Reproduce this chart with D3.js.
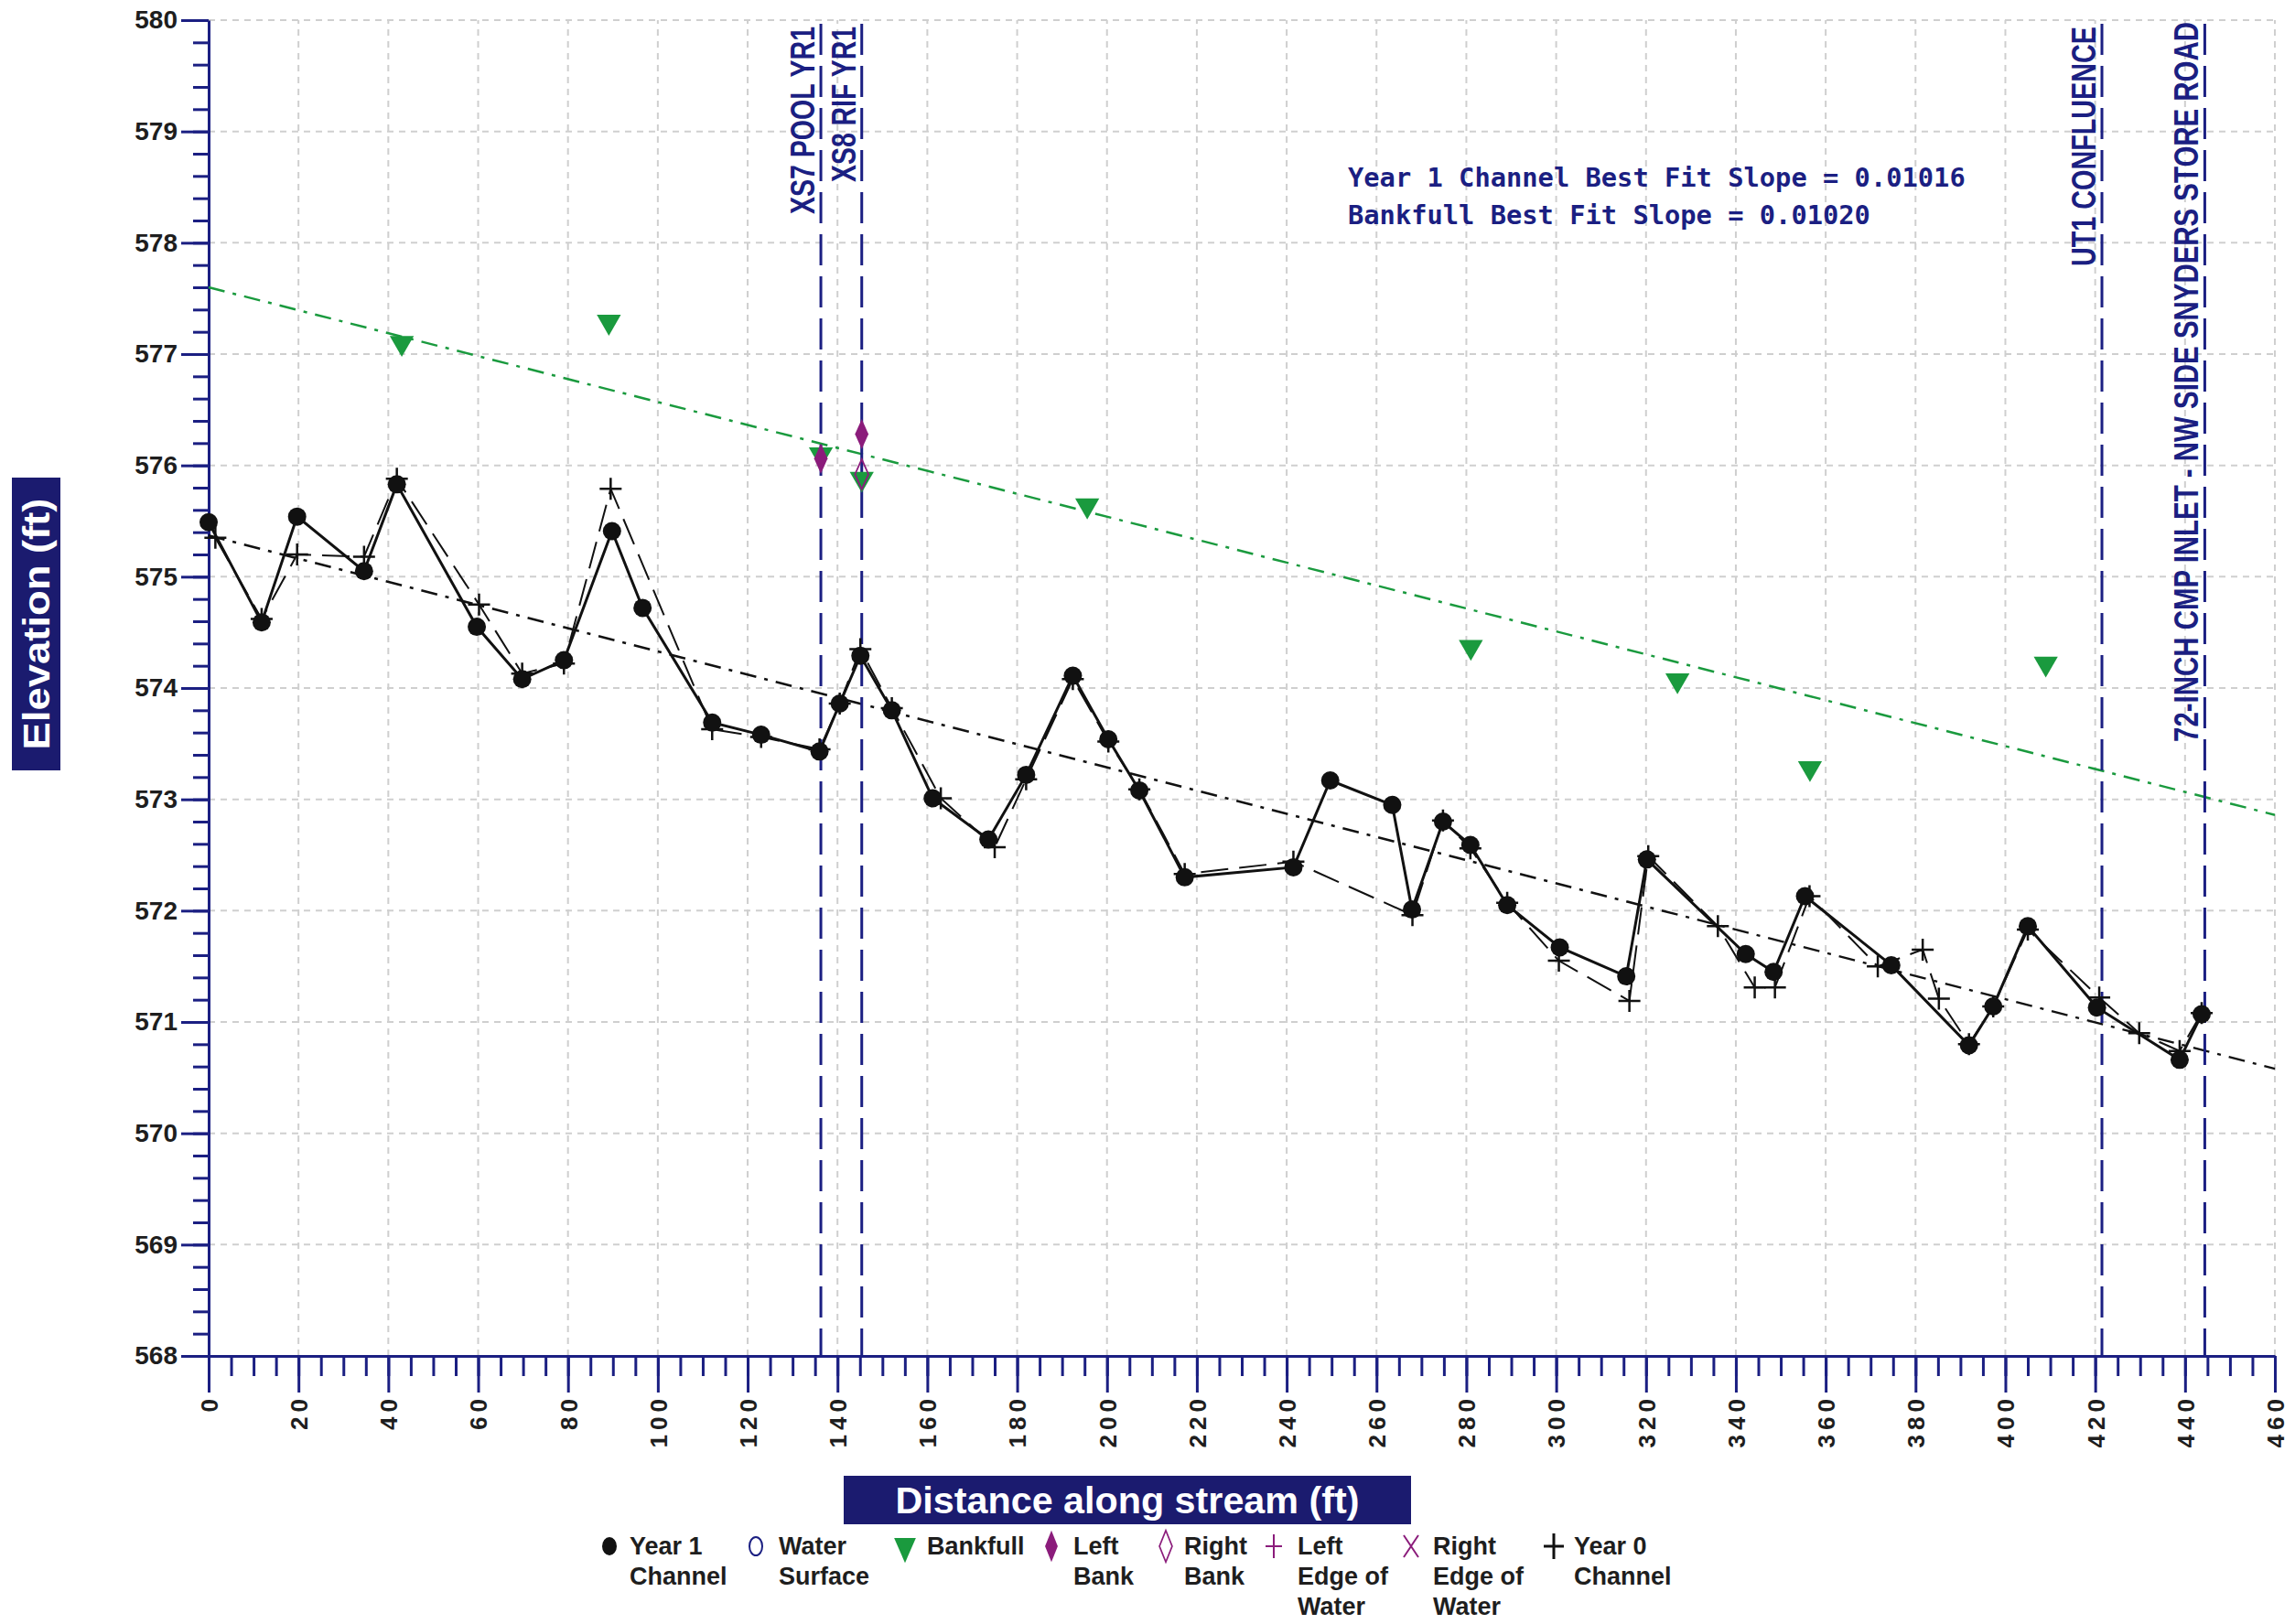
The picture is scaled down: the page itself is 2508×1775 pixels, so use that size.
<!DOCTYPE html>
<html>
<head>
<meta charset="utf-8">
<script src="https://cdn.jsdelivr.net/npm/d3@7"></script>
<style>
body { margin: 0; background: #fff; }
svg { display: block; font-family: "Liberation Sans", Arial, sans-serif; }
.yaxis text { font-size: 28px; font-weight: bold; fill: #1e1e1e; }
.xaxis text { font-size: 26px; font-weight: bold; fill: #1e1e1e; letter-spacing: 5px; }
.axis path, .axis line { stroke: #1b1f82; stroke-width: 3; }
.grid line { stroke: #cfcfcf; stroke-width: 2; stroke-dasharray: 7,6; }
.legend text { font-size: 27px; font-weight: bold; fill: #1e1e1e; }
</style>
</head>
<body>
<svg id="chart" width="2508" height="1775"></svg>
<script>

// Year 1 channel survey
var year1Dist = [0, 11.8, 19.7, 34.6, 41.9, 59.7, 69.8, 79.1, 89.8, 96.6, 112.1, 123, 136, 140.5, 145.1,
	152.1, 161.2, 173.6, 182, 192.4, 200.3, 207.2, 217.3, 241.5, 249.7, 263.5, 267.9, 274.8, 280.9, 289.1,
	300.8, 315.6, 320.2, 342.2, 348.4, 355.4, 374.6, 391.9, 397.3, 405, 420.4, 438.8, 443.7];
var year1Elev = [575.49, 574.59, 575.54, 575.05, 575.83, 574.55, 574.08, 574.25, 575.41, 574.72, 573.69, 573.58, 573.43, 573.86, 574.29,
	573.80, 573.01, 572.64, 573.22, 574.11, 573.54, 573.08, 572.30, 572.39, 573.17, 572.95, 572.01, 572.80, 572.59, 572.05,
	571.67, 571.41, 572.46, 571.61, 571.45, 572.13, 571.51, 570.79, 571.14, 571.86, 571.13, 570.66, 571.07];

// Year 0 (as-built) channel
var year0Dist = [1.5, 11.8, 19.7, 34.6, 41.9, 60.2, 69.8, 79.1, 89.5, 112.1, 123, 136, 140.5, 145.1, 152.1,
	163, 175, 182, 192.4, 200.3, 207.2, 217.3, 241.5, 268, 274.8, 280.9, 289.1, 300.6, 316.3, 320.5,
	336, 344.2, 348.7, 356.4, 371.6, 381.6, 385.2, 391.9, 397.3, 405, 420.9, 429.8, 438.8, 443.7];
var year0Elev = [575.35, 574.62, 575.2, 575.18, 575.88, 574.75, 574.13, 574.22, 575.79, 573.63, 573.56, 573.45, 573.86, 574.35, 573.82,
	573.01, 572.57, 573.18, 574.08, 573.52, 573.09, 572.33, 572.44, 571.96, 572.81, 572.56, 572.07, 571.55, 571.19, 572.49,
	571.86, 571.31, 571.31, 572.13, 571.50, 571.65, 571.21, 570.80, 571.14, 571.83, 571.22, 570.90, 570.74, 571.08];

var bankfullDist = [43, 89.1, 136.3, 145.4, 195.6, 281, 327, 356.5, 409];
var bankfullElev = [577.10, 577.29, 576.10, 575.88, 575.64, 574.37, 574.07, 573.28, 574.22];

var leftBankDist = [136.3, 145.4];
var leftBankElev = [576.06, 576.28];
var rightBankDist = [145.4];
var rightBankElev = [575.92];

// best fit lines (end points)
var fitDist = [0, 460];
var year1FitElev = [575.37, 570.58];
var bankfullFitElev = [577.60, 572.86];

var refNames = ["XS7 POOL YR1", "XS8 RIF YR1", "UT1 CONFLUENCE", "72-INCH CMP INLET - NW SIDE SNYDERS STORE ROAD"];
var refDist = [136.3, 145.4, 421.5, 444.4];

var xTicks = [0, 20, 40, 60, 80, 100, 120, 140, 160, 180, 200, 220, 240, 260, 280, 300, 320, 340, 360, 380, 400, 420, 440, 460];
var yTicks = [568, 569, 570, 571, 572, 573, 574, 575, 576, 577, 578, 579, 580];

var slopeNotes = ["Year 1 Channel Best Fit Slope = 0.01016", "Bankfull Best Fit Slope = 0.01020"];

var legendNames = [["Year 1", "Channel"], ["Water", "Surface"], ["Bankfull"], ["Left", "Bank"], ["Right", "Bank"],
	["Left", "Edge of", "Water"], ["Right", "Edge of", "Water"], ["Year 0", "Channel"]];

var navy = "#1b1f82", green = "#1a9a3e", purple = "#8b1c7b";

var svg = d3.select("#chart");

var x = d3.scaleLinear().domain([0, 460]).range([228, 2486]);
var y = d3.scaleLinear().domain([568, 580]).range([1482, 22]);

function pts(dist, elev) {
	return dist.map(function(d, i) { return [d, elev[i]]; });
}

// grid
var grid = svg.append("g").attr("class", "grid");
grid.selectAll(".gy").data(yTicks.slice(1)).enter().append("line")
	.attr("x1", x(0)).attr("x2", x(460))
	.attr("y1", function(d) { return y(d); }).attr("y2", function(d) { return y(d); });
grid.selectAll(".gx").data(xTicks.slice(1)).enter().append("line")
	.attr("y1", y(568)).attr("y2", y(580))
	.attr("x1", function(d) { return x(d); }).attr("x2", function(d) { return x(d); });

// axes
var yAxis = svg.append("g").attr("class", "axis yaxis").attr("transform", "translate(" + x(0) + ",0)");
yAxis.call(d3.axisLeft(y).tickValues(d3.range(568, 580.01, 0.2)).tickSize(17).tickSizeOuter(0).tickFormat(""));
yAxis.append("g").call(d3.axisLeft(y).tickValues(yTicks).tickSize(30).tickSizeOuter(0).tickPadding(4).tickFormat(d3.format("d")))
	.select(".domain").remove();
yAxis.selectAll("text").attr("fill", "#1e1e1e");

var xAxis = svg.append("g").attr("class", "axis xaxis").attr("transform", "translate(0," + y(568) + ")");
xAxis.call(d3.axisBottom(x).tickValues(d3.range(0, 460.01, 5)).tickSize(22).tickSizeOuter(0).tickFormat(""));
var xMajor = xAxis.append("g").call(d3.axisBottom(x).tickValues(xTicks).tickSize(40).tickSizeOuter(0).tickFormat(d3.format("d")));
xMajor.select(".domain").remove();
xMajor.selectAll("text")
	.attr("fill", "#1e1e1e")
	.attr("transform", "rotate(-90)")
	.attr("text-anchor", "end")
	.attr("x", -42).attr("y", 0).attr("dy", "0.36em");

// best fit lines
var line = d3.line().x(function(d) { return x(d[0]); }).y(function(d) { return y(d[1]); });

svg.append("path").datum(pts(fitDist, bankfullFitElev)).attr("d", line)
	.attr("fill", "none").attr("stroke", green).attr("stroke-width", 2.5).attr("stroke-dasharray", "18,9,4,9");
svg.append("path").datum(pts(fitDist, year1FitElev)).attr("d", line)
	.attr("fill", "none").attr("stroke", "#111").attr("stroke-width", 2.5).attr("stroke-dasharray", "18,9,4,9");

// reference lines with labels
var refs = svg.append("g");
refs.selectAll("line").data(refDist).enter().append("line")
	.attr("x1", function(d) { return x(d); }).attr("x2", function(d) { return x(d); })
	.attr("y1", y(580) + 4).attr("y2", y(568))
	.attr("stroke", navy).attr("stroke-width", 3).attr("stroke-dasharray", "34,12");
var refLen = [205, 170, 262, 787];
refs.selectAll("text").data(refNames).enter().append("text")
	.attr("transform", function(d, i) { return "translate(" + (x(refDist[i]) - 7) + "," + (i == 3 ? 24 : 29) + ") rotate(-90) scale(1,1.3)"; })
	.attr("text-anchor", "end")
	.attr("textLength", function(d, i) { return refLen[i]; })
	.attr("lengthAdjust", "spacingAndGlyphs")
	.attr("font-size", 28).attr("font-weight", "bold").attr("fill", navy)
	.text(function(d) { return d; });

// year 0 channel
svg.append("path").datum(pts(year0Dist, year0Elev)).attr("d", line)
	.attr("fill", "none").attr("stroke", "#111").attr("stroke-width", 2).attr("stroke-dasharray", "30,12");
// year 1 channel
svg.append("path").datum(pts(year1Dist, year1Elev)).attr("d", line)
	.attr("fill", "none").attr("stroke", "#111").attr("stroke-width", 3);

var plus = "M-12,0H12M0,-12V12";
svg.append("g").selectAll("path").data(pts(year0Dist, year0Elev)).enter().append("path")
	.attr("d", plus).attr("transform", function(d) { return "translate(" + x(d[0]) + "," + y(d[1]) + ")"; })
	.attr("stroke", "#111").attr("stroke-width", 2.5).attr("fill", "none");

svg.append("g").selectAll("circle").data(pts(year1Dist, year1Elev)).enter().append("circle")
	.attr("cx", function(d) { return x(d[0]); }).attr("cy", function(d) { return y(d[1]); })
	.attr("r", 10).attr("fill", "#111");

var tri = d3.symbol().type(d3.symbolTriangle).size(300);
svg.append("g").selectAll("path").data(pts(bankfullDist, bankfullElev)).enter().append("path")
	.attr("d", tri).attr("transform", function(d) { return "translate(" + x(d[0]) + "," + y(d[1]) + ") rotate(180)"; })
	.attr("fill", green);

var diamond = d3.symbol().type(d3.symbolDiamond).size(260);
svg.append("g").selectAll("path").data(pts(rightBankDist, rightBankElev)).enter().append("path")
	.attr("d", diamond).attr("transform", function(d) { return "translate(" + x(d[0]) + "," + y(d[1]) + ") scale(0.85,1.1)"; })
	.attr("fill", "none").attr("stroke", purple).attr("stroke-width", 2);
svg.append("g").selectAll("path").data(pts(leftBankDist, leftBankElev)).enter().append("path")
	.attr("d", diamond).attr("transform", function(d) { return "translate(" + x(d[0]) + "," + y(d[1]) + ") scale(0.85,1.1)"; })
	.attr("fill", purple);

// slope notes
svg.append("g").selectAll("text").data(slopeNotes).enter().append("text")
	.attr("x", 1473).attr("y", function(d, i) { return 204 + i * 41; })
	.attr("font-family", "'DejaVu Sans Mono', monospace").attr("font-size", 28).attr("font-weight", "bold")
	.attr("fill", navy)
	.attr("textLength", function(d) { return d.length * 17.3; })
	.attr("lengthAdjust", "spacingAndGlyphs")
	.text(function(d) { return d; });

// axis titles
svg.append("rect").attr("x", 13).attr("y", 522).attr("width", 53).attr("height", 320).attr("fill", "#1b1b6f");
svg.append("text").attr("transform", "translate(54,682) rotate(-90)")
	.attr("text-anchor", "middle").attr("font-size", 40).attr("font-weight", "bold").attr("fill", "#fff")
	.attr("textLength", 275).attr("lengthAdjust", "spacingAndGlyphs")
	.text("Elevation (ft)");
svg.append("rect").attr("x", 922).attr("y", 1613).attr("width", 620).attr("height", 53).attr("fill", "#1b1b6f");
svg.append("text").attr("x", 1232).attr("y", 1654)
	.attr("text-anchor", "middle").attr("font-size", 40).attr("font-weight", "bold").attr("fill", "#fff")
	.attr("textLength", 507).attr("lengthAdjust", "spacingAndGlyphs")
	.text("Distance along stream (ft)");

// legend
var markX = [666, 826, 989, 1149, 1274, 1392, 1542, 1698];
var textX = [688, 851, 1013, 1173, 1294, 1418, 1566, 1720];
var legend = svg.append("g").attr("class", "legend");
var item = legend.selectAll("g").data(legendNames).enter().append("g");
item.each(function(lines, i) {
	var g = d3.select(this);
	lines.forEach(function(s, j) {
		g.append("text").attr("x", textX[i]).attr("y", 1699 + j * 33).text(s);
	});
	var m = g.append("g").attr("transform", "translate(" + markX[i] + ",1690)");
	if (i == 0) m.append("ellipse").attr("rx", 8).attr("ry", 10).attr("fill", "#111");
	if (i == 1) m.append("ellipse").attr("rx", 7).attr("ry", 10).attr("fill", "none").attr("stroke", navy).attr("stroke-width", 2);
	if (i == 2) m.append("path").attr("d", tri).attr("transform", "rotate(180) scale(0.9,1.2)").attr("fill", green);
	if (i == 3) m.append("path").attr("d", diamond).attr("transform", "scale(0.8,1.15)").attr("fill", purple);
	if (i == 4) m.append("path").attr("d", diamond).attr("transform", "scale(0.8,1.15)").attr("fill", "none").attr("stroke", purple).attr("stroke-width", 2);
	if (i == 5) m.append("path").attr("d", "M-9,0H9M0,-13V13").attr("stroke", purple).attr("stroke-width", 2);
	if (i == 6) m.append("path").attr("d", "M-8,-12L8,12M8,-12L-8,12").attr("stroke", purple).attr("stroke-width", 2);
	if (i == 7) m.append("path").attr("d", "M-11,0H11M0,-14V14").attr("stroke", "#111").attr("stroke-width", 3);
});

</script>
</body>
</html>
